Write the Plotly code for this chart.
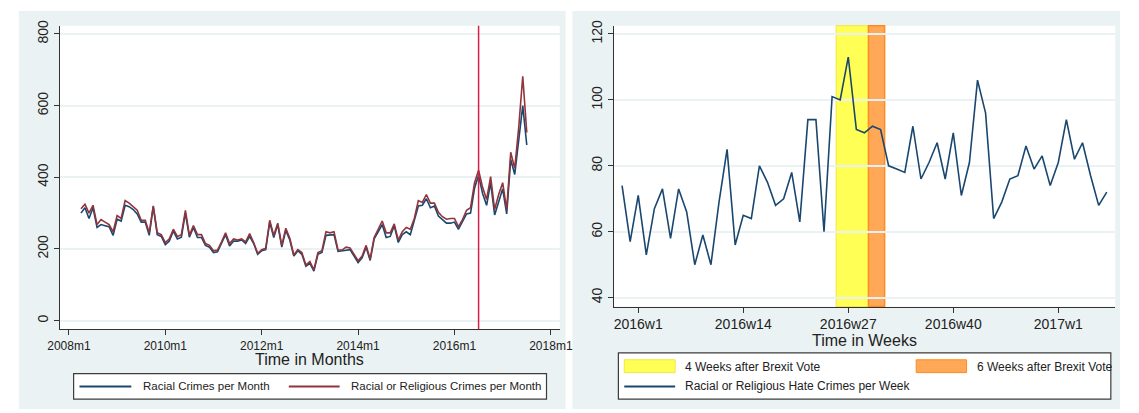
import plotly.graph_objects as go

# ---------------- monthly series (2008m4 .. 2017m7) ----------------
month_start = 3  # months since 2008m1
racial_month = [
    300, 315, 285, 315, 260, 268, 265, 262, 238,
    283, 278, 322, 318, 310, 298, 275, 275, 238, 318, 240, 235,
    212, 222, 250, 228, 233, 300, 233, 260, 232, 232, 210, 205,
    190, 192, 215, 240, 208, 222, 222, 225, 215, 235, 215, 185,
    195, 198, 275, 232, 268, 205, 252, 225, 180, 195, 185, 152,
    160, 138, 185, 190, 238, 238, 240, 193, 195, 198, 198, 180,
    162, 175, 205, 168, 228, 248, 268, 232, 235, 265, 218, 240,
    248, 240, 278, 320, 322, 340, 315, 320, 292, 282, 272, 272,
    275, 255, 275, 298, 300, 370, 405, 355, 322, 385, 295, 335,
    368, 298, 450, 408, 500, 600, 490,
]
religious_month = [
    312, 325, 300, 322, 268, 282, 275, 268, 248,
    293, 285, 335, 328, 318, 308, 280, 280, 245, 320, 245, 240,
    218, 228, 255, 235, 240, 308, 238, 265, 240, 240, 215, 210,
    195, 197, 220, 245, 215, 228, 225, 228, 220, 243, 218, 188,
    198, 202, 280, 238, 272, 210, 258, 230, 183, 198, 190, 155,
    165, 142, 190, 195, 248, 245, 248, 197, 197, 205, 203, 185,
    167, 180, 210, 172, 232, 255, 278, 245, 245, 270, 225, 248,
    260, 255, 285, 335, 330, 352, 328, 328, 302, 290, 283, 285,
    285, 262, 282, 308, 315, 385, 420, 372, 338, 402, 310, 352,
    385, 310, 470, 425, 540, 682, 525,
]
months = [month_start + i for i in range(len(racial_month))]
brexit_month = 102  # 2016m7
month_ticks = [0, 24, 48, 72, 96, 120]
month_labels = ["2008m1", "2010m1", "2012m1", "2014m1", "2016m1", "2018m1"]

# ---------------- weekly series (2015w51 .. 2017w7) ----------------
week_start = -2  # weeks relative to 2016w1
hate_week = [
    74, 57, 71, 53, 67, 73, 58, 73, 66, 50, 59, 50, 69, 85, 56, 65,
    64, 80, 75, 68, 70, 78, 63, 94, 94, 60, 101, 100, 113, 91, 90, 92,
    91, 80, 79, 78, 92, 76, 81, 87, 76, 90, 71, 81, 106, 96, 64, 69,
    76, 77, 86, 79, 83, 74, 81, 94, 82, 87, 77, 68, 72,
]
weeks = [week_start + i for i in range(len(hate_week))]
band4 = (24.5, 28.5)   # 4 weeks after the vote
band6 = (28.5, 30.5)   # weeks 5-6 after the vote
week_ticks = [0, 13, 26, 39, 52]
week_labels = ["2016w1", "2016w14", "2016w27", "2016w40", "2017w1"]

# ---------------- styling ----------------
W, H = 1139, 413
PANEL = "#EAF2F3"
GRID = "#EAF2F3"
NAVY = "#1A476F"
MAROON = "#90353B"
VLINE = "#D2204A"
YELLOW = "#FFFF55"
YELLOW_EDGE = "#F2E640"
ORANGE = "#FFA858"
ORANGE_EDGE = "#FF8A1E"
FONT = "Liberation Sans, Arial, sans-serif"


def px_x(v):
    return v / W


def px_y(v):
    return 1 - v / H


L_DOM = (px_x(49), px_x(560))
L_YDOM = (px_y(328), px_y(20))
R_DOM = (px_x(615.5), px_x(1128))
R_YDOM = (px_y(305), px_y(20))

fig = go.Figure()

fig.add_trace(go.Scatter(x=months, y=racial_month, mode="lines",
                         line=dict(color=NAVY, width=1.6),
                         xaxis="x", yaxis="y", showlegend=False,
                         name="Racial Crimes per Month"))
fig.add_trace(go.Scatter(x=months, y=religious_month, mode="lines",
                         line=dict(color=MAROON, width=1.6),
                         xaxis="x", yaxis="y", showlegend=False,
                         name="Racial or Religious Crimes per Month"))
fig.add_trace(go.Scatter(x=weeks, y=hate_week, mode="lines",
                         line=dict(color=NAVY, width=1.6),
                         xaxis="x2", yaxis="y2", showlegend=False,
                         name="Racial or Religious Hate Crimes per Week"))

shapes = []
# panel backgrounds and white plot regions
for x0, x1 in [(7, 566), (573, 1133)]:
    shapes.append(dict(type="rect", xref="paper", yref="paper",
                       x0=px_x(x0), x1=px_x(x1), y0=px_y(409), y1=px_y(5),
                       fillcolor=PANEL, line=dict(width=0), layer="below"))
for dom, ydom in [(L_DOM, L_YDOM), (R_DOM, R_YDOM)]:
    shapes.append(dict(type="rect", xref="paper", yref="paper",
                       x0=dom[0], x1=dom[1], y0=ydom[0], y1=ydom[1],
                       fillcolor="white", line=dict(width=0), layer="below"))

# Brexit bands on the weekly chart
shapes.append(dict(type="rect", xref="x2", yref="y2 domain",
                   x0=band4[0], x1=band4[1], y0=0, y1=1,
                   fillcolor=YELLOW, line=dict(color=YELLOW_EDGE, width=1),
                   layer="below"))
shapes.append(dict(type="rect", xref="x2", yref="y2 domain",
                   x0=band6[0], x1=band6[1], y0=0, y1=1,
                   fillcolor=ORANGE, line=dict(color=ORANGE_EDGE, width=1.5),
                   layer="below"))

# vertical marker at the referendum month
shapes.append(dict(type="line", xref="x", yref="y domain",
                   x0=brexit_month, x1=brexit_month, y0=0, y1=1,
                   line=dict(color=VLINE, width=1.5), layer="above"))

# legend boxes
def box(x0, y0, x1, y1):
    return dict(type="rect", xref="paper", yref="paper",
                x0=px_x(x0), x1=px_x(x1), y0=px_y(y1), y1=px_y(y0),
                fillcolor="white", line=dict(color="#3C3C3C", width=1.2),
                layer="above")

shapes.append(box(63, 373, 546.5, 399))
shapes.append(box(620, 352, 1123.5, 399))


def sample_line(x0, x1, y, color):
    return dict(type="line", xref="paper", yref="paper",
                x0=px_x(x0), x1=px_x(x1), y0=px_y(y), y1=px_y(y),
                line=dict(color=color, width=2), layer="above")


def sample_rect(x0, x1, y0, y1, fill, edge):
    return dict(type="rect", xref="paper", yref="paper",
                x0=px_x(x0), x1=px_x(x1), y0=px_y(y1), y1=px_y(y0),
                fillcolor=fill, line=dict(color=edge, width=1), layer="above")

shapes.append(sample_line(69, 122, 386, NAVY))
shapes.append(sample_line(283, 335, 386, MAROON))
shapes.append(sample_rect(626, 678, 359, 372, YELLOW, YELLOW_EDGE))
shapes.append(sample_rect(924.5, 976, 359, 372, ORANGE, ORANGE_EDGE))
shapes.append(sample_line(626, 678, 386, NAVY))

annotations = []


def label(text, x, y, size, anchor="left"):
    annotations.append(dict(text=text, xref="paper", yref="paper",
                            x=px_x(x), y=px_y(y), xanchor=anchor,
                            yanchor="middle", showarrow=False,
                            font=dict(family=FONT, size=size, color="#222")))

label("Racial Crimes per Month", 131.6, 386, 11.5)
label("Racial or Religious Crimes per Month", 345, 386, 11.5)
label("4 Weeks after Brexit Vote", 686.4, 366, 12)
label("6 Weeks after Brexit Vote", 984.5, 366, 12)
label("Racial or Religious Hate Crimes per Week", 686.4, 386, 12)
label("Time in Months", 304.5, 359, 16, "center")
label("Time in Weeks", 871.8, 339.5, 16, "center")

axis_common = dict(showline=True, linecolor="#333", linewidth=1,
                   ticks="outside", ticklen=5, tickcolor="#333",
                   zeroline=False)

fig.update_layout(
    width=W, height=H,
    margin=dict(l=0, r=0, t=0, b=0),
    paper_bgcolor="white", plot_bgcolor="rgba(0,0,0,0)",
    font=dict(family=FONT, color="#222"),
    showlegend=False,
    shapes=shapes, annotations=annotations,
    xaxis=dict(domain=L_DOM, anchor="y", range=[-2.24, 122.2],
               tickvals=month_ticks, ticktext=month_labels,
               tickfont=dict(size=12), showgrid=False, **axis_common),
    yaxis=dict(domain=L_YDOM, anchor="x", range=[-24, 823],
               tickvals=[0, 200, 400, 600, 800], tickangle=-90,
               tickfont=dict(size=14), showgrid=True, gridcolor=GRID,
               gridwidth=1.5, **axis_common),
    xaxis2=dict(domain=R_DOM, anchor="y2", range=[-3, 59.05],
                tickvals=week_ticks, ticktext=week_labels,
                tickfont=dict(size=14), showgrid=False, **axis_common),
    yaxis2=dict(domain=R_YDOM, anchor="x2", range=[37.3, 122.5],
                tickvals=[40, 60, 80, 100, 120], tickangle=-90,
                tickfont=dict(size=14), showgrid=True, gridcolor=GRID,
                gridwidth=1.5, **axis_common),
)

fig.write_html("out.html")
